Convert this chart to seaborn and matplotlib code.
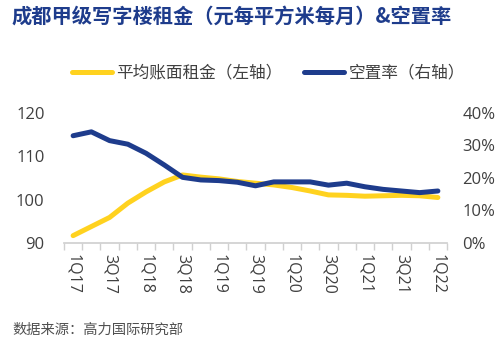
import matplotlib
matplotlib.use("Agg")
import matplotlib.pyplot as plt
import seaborn as sns
import pandas as pd
import numpy as np
from matplotlib.ticker import FuncFormatter, FixedLocator

sns.set_theme(style="white")
plt.rcParams['font.family'] = ['Noto Sans CJK SC', 'DejaVu Sans']

quarters = ["1Q17", "2Q17", "3Q17", "4Q17", "1Q18", "2Q18", "3Q18", "4Q18",
            "1Q19", "2Q19", "3Q19", "4Q19", "1Q20", "2Q20", "3Q20", "4Q20",
            "1Q21", "2Q21", "3Q21", "4Q21", "1Q22"]
rent = [91.7, 93.8, 95.9, 99.2, 101.8, 104.1, 105.7, 105.2, 104.8, 104.2, 103.8,
        103.4, 102.8, 102.0, 101.1, 101.0, 100.8, 100.9, 101.0, 100.9, 100.5]
vacancy = [33.0, 34.2, 31.5, 30.4, 27.6, 24.0, 20.2, 19.4, 19.2, 18.7, 17.6,
           18.8, 18.8, 18.8, 17.8, 18.4, 17.3, 16.5, 16.0, 15.5, 16.0]
tick_labels = quarters[::2]

title = "成都甲级写字楼租金（元每平方米每月）&空置率"
rent_label = "平均账面租金（左轴）"
vac_label = "空置率（右轴）"
source = "数据来源：高力国际研究部"

YELLOW = "#FFD21F"
BLUE = "#1E3C8C"
TXT = "#404040"
NUMFONT = ['Open Sans', 'DejaVu Sans']

df = pd.DataFrame({"idx": np.arange(len(quarters)), "q": quarters,
                   "rent": rent, "vacancy": vacancy})

fig = plt.figure(figsize=(5.0, 3.47), dpi=100)
ax = fig.add_axes([0.128, 0.2997, 0.766, 0.3747])
ax2 = ax.twinx()

sns.lineplot(data=df, x="idx", y="rent", ax=ax, color=YELLOW, linewidth=3.6,
             label=rent_label, legend=False)
sns.lineplot(data=df, x="idx", y="vacancy", ax=ax2, color=BLUE, linewidth=3.6,
             label=vac_label, legend=False)

n = len(quarters)
ax.set_xlim(-0.5, n - 0.5)
ax.set_ylim(90, 120)
ax.set_yticks([90, 100, 110, 120])
ax2.set_ylim(0, 40)
ax2.set_yticks([0, 10, 20, 30, 40])
ax2.yaxis.set_major_formatter(FuncFormatter(lambda v, p: f"{v:.0f}%"))

ax.xaxis.set_major_locator(FixedLocator(list(range(0, n, 2))))
ax.set_xticklabels(tick_labels, rotation=270, fontsize=11.5, color=TXT)
ax.xaxis.set_minor_locator(FixedLocator(list(np.arange(-0.5, n, 1.0))))
ax.tick_params(axis="x", which="major", length=0, pad=8)
ax.tick_params(axis="x", which="minor", length=5, color="#d0d0d0", width=1, bottom=True)
ax.tick_params(axis="y", length=0, pad=14, labelsize=12, labelcolor=TXT)
ax2.tick_params(axis="y", length=0, pad=11, labelsize=12, labelcolor=TXT)

for lab in ax.get_xticklabels() + ax.get_yticklabels() + ax2.get_yticklabels():
    lab.set_fontfamily(NUMFONT)

for a in (ax, ax2):
    for s in ("top", "left", "right"):
        a.spines[s].set_visible(False)
    a.spines["bottom"].set_color("#d0d0d0")
    a.set_xlabel("")
    a.set_ylabel("")
ax2.spines["bottom"].set_visible(False)

fig.text(0.024, 0.955, title, fontsize=14.6, fontweight="bold", color=BLUE,
         ha="left", va="center")

h1, l1 = ax.get_legend_handles_labels()
h2, l2 = ax2.get_legend_handles_labels()
fig.legend(h1 + h2, l1 + l2, loc="center", bbox_to_anchor=(0.537, 0.79), ncol=2,
           frameon=False, fontsize=12, handlelength=2.4, handletextpad=0.25,
           columnspacing=1.3, labelcolor=TXT)

fig.text(0.024, 0.05, source, fontsize=10.3, color="#505050", ha="left", va="center")

fig.savefig("out.png", dpi=100)
